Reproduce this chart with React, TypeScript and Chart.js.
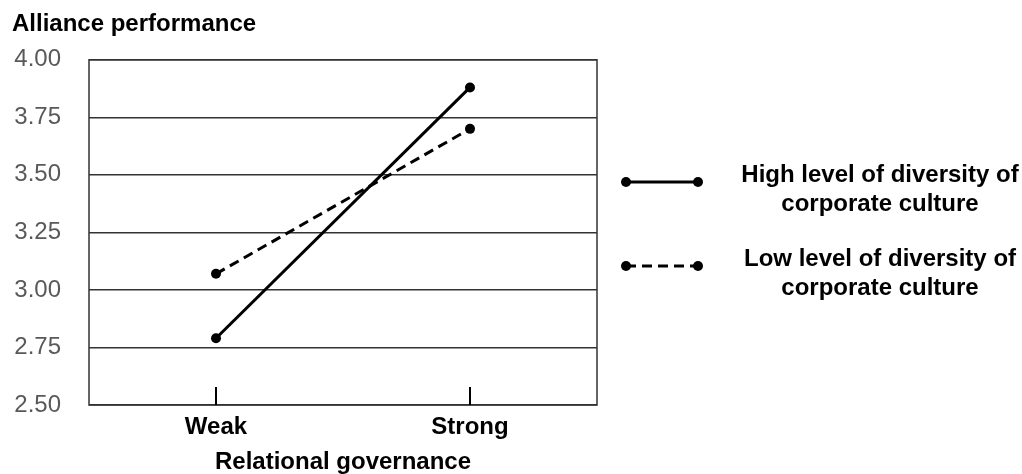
import { useEffect, useRef } from 'react'
import { Chart, registerables, Plugin } from 'chart.js'

Chart.register(...registerables)

const categories = ['Weak', 'Strong']
const highDiversity = [2.79, 3.88]
const lowDiversity = [3.07, 3.7]
const yTicks = [2.5, 2.75, 3.0, 3.25, 3.5, 3.75, 4.0]
const seriesNames = ['High level of diversity of corporate culture', 'Low level of diversity of corporate culture']
const legendText = [
  ['High level of diversity of', 'corporate culture'],
  ['Low level of diversity of', 'corporate culture'],
]

const FONT = "'Liberation Sans', Arial, sans-serif"

// frame round the plot and the short tick marks that stand inside it
const framePlugin: Plugin<'line'> = {
  id: 'frame',
  beforeDatasetsDraw(chart) {
    const { ctx, chartArea } = chart
    const x = chart.scales.x
    ctx.save()
    ctx.strokeStyle = '#333'
    ctx.lineWidth = 1.5
    ctx.strokeRect(chartArea.left, chartArea.top, chartArea.right - chartArea.left, chartArea.bottom - chartArea.top)
    ctx.strokeStyle = '#000'
    ctx.lineWidth = 2
    categories.forEach((_, i) => {
      const px = x.getPixelForValue(i)
      ctx.beginPath()
      ctx.moveTo(px, chartArea.bottom)
      ctx.lineTo(px, chartArea.bottom - 18)
      ctx.stroke()
    })
    ctx.restore()
  },
}

// legend with two-line labels to the right of the plot
const legendPlugin: Plugin<'line'> = {
  id: 'sideLegend',
  afterDraw(chart) {
    const { ctx, chartArea } = chart
    const x0 = chartArea.right + 29
    const x1 = x0 + 72
    const textX = chartArea.right + 283
    const rows = [182, 266]
    ctx.save()
    chart.data.datasets.forEach((ds: any, i) => {
      const y = rows[i]
      ctx.strokeStyle = ds.borderColor
      ctx.lineWidth = ds.borderWidth
      ctx.setLineDash(ds.borderDash || [])
      ctx.beginPath()
      ctx.moveTo(x0, y)
      ctx.lineTo(x1, y)
      ctx.stroke()
      ctx.setLineDash([])
      ctx.fillStyle = ds.pointBackgroundColor
      ;[x0, x1].forEach(px => {
        ctx.beginPath()
        ctx.arc(px, y, ds.pointRadius, 0, Math.PI * 2)
        ctx.fill()
      })
      ctx.fillStyle = '#000'
      ctx.font = `bold 24px ${FONT}`
      ctx.textAlign = 'center'
      ctx.textBaseline = 'alphabetic'
      legendText[i].forEach((line, j) => {
        ctx.fillText(line, textX, y + j * 29)
      })
    })
    ctx.restore()
  },
}

export default function App() {
  const chartRef = useRef<HTMLCanvasElement>(null)
  const chartInstance = useRef<Chart | null>(null)

  useEffect(() => {
    document.body.style.margin = '0'
    if (chartRef.current) {
      const ctx = chartRef.current.getContext('2d')
      if (ctx) {
        if (chartInstance.current) {
          chartInstance.current.destroy()
        }
        chartInstance.current = new Chart(ctx, {
          type: 'line',
          data: {
            labels: categories,
            datasets: [
              {
                label: seriesNames[0],
                data: highDiversity,
                borderColor: '#000',
                borderWidth: 3,
                pointRadius: 5,
                pointBackgroundColor: '#000',
                pointBorderWidth: 0,
                tension: 0,
              },
              {
                label: seriesNames[1],
                data: lowDiversity,
                borderColor: '#000',
                borderWidth: 3,
                borderDash: [10, 6],
                pointRadius: 5,
                pointBackgroundColor: '#000',
                pointBorderWidth: 0,
                tension: 0,
              },
            ],
          },
          options: {
            animation: false,
            responsive: true,
            maintainAspectRatio: false,
            layout: { padding: { left: 12, right: 425, top: 0, bottom: 0 } },
            plugins: {
              legend: { display: false },
              tooltip: { enabled: false },
              title: {
                display: true,
                text: 'Alliance performance',
                align: 'start',
                color: '#000',
                font: { family: FONT, size: 24, weight: 'bold' },
                padding: { top: 10, bottom: 21 },
              },
            },
            scales: {
              x: {
                offset: true,
                grid: { display: false, drawTicks: false },
                border: { display: false },
                ticks: {
                  color: '#000',
                  padding: 8,
                  font: { family: FONT, size: 24, weight: 'bold' },
                },
                title: {
                  display: true,
                  text: 'Relational governance',
                  color: '#000',
                  font: { family: FONT, size: 24, weight: 'bold' },
                  padding: { top: 0, bottom: -3 },
                },
                afterFit: (scale: any) => {
                  scale.height = 69
                },
              },
              y: {
                min: 2.5,
                max: 4.0,
                grid: { color: '#333', lineWidth: 1.5, drawTicks: false },
                border: { display: false },
                afterBuildTicks: (scale: any) => {
                  scale.ticks = yTicks.map(v => ({ value: v }))
                },
                ticks: {
                  color: '#595959',
                  padding: 28,
                  font: { family: FONT, size: 24 },
                  callback: (v: any) => Number(v).toFixed(2),
                },
                afterFit: (scale: any) => {
                  scale.width = 77
                },
              },
            },
          },
          plugins: [framePlugin, legendPlugin],
        })
      }
    }

    return () => {
      if (chartInstance.current) {
        chartInstance.current.destroy()
        chartInstance.current = null
      }
    }
  }, [])

  return (
    <div style={{ position: 'relative', width: 1022, height: 474, background: '#fff' }}>
      <canvas ref={chartRef}></canvas>
    </div>
  )
}
